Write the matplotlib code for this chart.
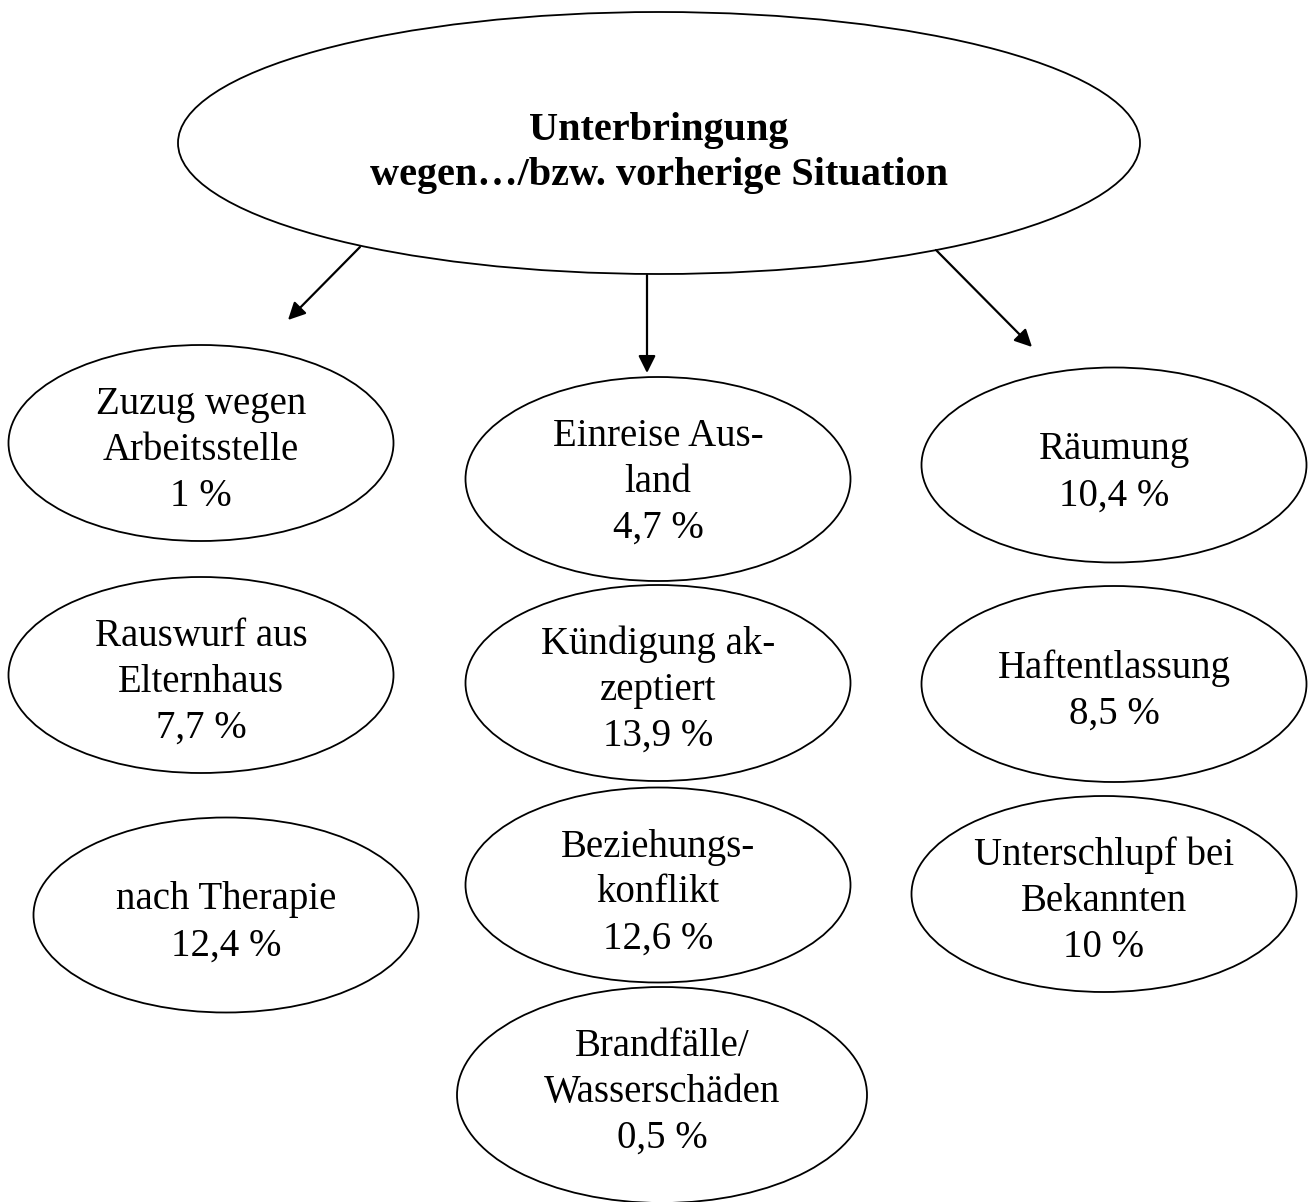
import matplotlib.pyplot as plt
from matplotlib.patches import Ellipse

# content
title_lines = ["Unterbringung", "wegen\u2026/bzw. vorherige Situation"]

left_labels = ["Zuzug wegen\nArbeitsstelle", "Rauswurf aus\nElternhaus", "nach Therapie"]
left_values = [1, 7.7, 12.4]

mid_labels = ["Einreise Aus-\nland", "K\u00fcndigung ak-\nzeptiert", "Beziehungs-\nkonflikt",
              "Brandf\u00e4lle/\nWassersch\u00e4den"]
mid_values = [4.7, 13.9, 12.6, 0.5]

right_labels = ["R\u00e4umung", "Haftentlassung", "Unterschlupf bei\nBekannten"]
right_values = [10.4, 8.5, 10]

# layout in pixels (cx, cy, w, h)
W, H = 1308, 1202
top_box = (659, 143, 962, 262)
left_boxes = [(201, 443, 385, 196), (201, 675, 385, 196), (226, 915, 385, 195)]
mid_boxes = [(658, 479, 385, 204), (658, 683, 385, 196), (658, 885, 385, 195), (662, 1095, 410, 216)]
right_boxes = [(1114, 465, 385, 195), (1114, 684, 385, 196), (1104, 894, 385, 196)]
arrows = [((360, 247), (288, 320)), ((647, 275), (647, 373)), ((936, 250), (1032, 347))]

FONT = 'Liberation Serif'
LINE = 46

fig = plt.figure(figsize=(W / 100, H / 100), dpi=100)
ax = fig.add_axes([0, 0, 1, 1])
ax.set_xlim(0, W)
ax.set_ylim(H, 0)
ax.axis('off')


def fmt(v):
    return '{:g}'.format(v).replace('.', ',') + ' %'


def node(box, label, value):
    cx, cy, w, h = box
    ax.add_patch(Ellipse((cx, cy), w, h, fill=False, ec='black', lw=1.3))
    lines = label.split('\n') + [fmt(value)]
    n = len(lines)
    top = cy - h / 2
    for i, s in enumerate(lines):
        y = top + 69 + 23 * (3 - n) + LINE * i
        ax.text(cx, y, s, ha='center', va='baseline', fontsize=28, family=FONT)


# top node
cx, cy, w, h = top_box
ax.add_patch(Ellipse((cx, cy), w, h, fill=False, ec='black', lw=1.3))
for i, s in enumerate(title_lines):
    ax.text(cx, 140 + 45 * i, s, ha='center', va='baseline', fontsize=29,
            family=FONT, fontweight='bold')

for boxes, labels, values in [(left_boxes, left_labels, left_values),
                              (mid_boxes, mid_labels, mid_values),
                              (right_boxes, right_labels, right_values)]:
    for b, l, v in zip(boxes, labels, values):
        node(b, l, v)

for start, end in arrows:
    ax.annotate('', xy=end, xytext=start,
                arrowprops=dict(arrowstyle='-|>', color='black', lw=1.6,
                                mutation_scale=26, shrinkA=0, shrinkB=0))

fig.savefig('out.png', dpi=100, facecolor='white')
